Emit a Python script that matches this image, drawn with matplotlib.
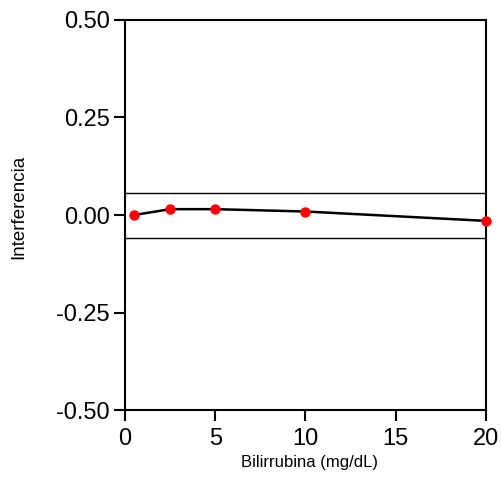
import matplotlib
matplotlib.use("Agg")
import matplotlib.pyplot as plt

# bilirrubina vs interferencia
bilirrubina = [0.5, 2.5, 5, 10, 20]
interferencia = [0.0, 0.015, 0.015, 0.009, -0.015]
limite_sup = 0.057
limite_inf = -0.059
x_ticks = [0, 5, 10, 15, 20]
y_ticks = [-0.50, -0.25, 0.00, 0.25, 0.50]

plt.rcParams["font.family"] = ["Liberation Sans", "DejaVu Sans"]

fig = plt.figure(figsize=(5.02, 4.96), dpi=100)
ax = fig.add_axes([0.249, 0.173, 0.719, 0.787])

ax.axhline(limite_sup, color="black", linewidth=1)
ax.axhline(limite_inf, color="black", linewidth=1)
ax.plot(bilirrubina, interferencia, color="black", linewidth=1.8,
        marker="o", markersize=6.5, markerfacecolor="red", markeredgecolor="red",
        clip_on=False, zorder=3)

ax.set_xlim(0, 20)
ax.set_ylim(-0.5, 0.5)
ax.set_xticks(x_ticks)
ax.set_yticks(y_ticks)
ax.set_yticklabels([f"{v:.2f}" for v in y_ticks])
for s in ax.spines.values():
    s.set_linewidth(1.5)
ax.tick_params(direction="out", length=8, width=1.5, labelsize=17)
ax.tick_params(axis="x", pad=5)
ax.tick_params(axis="y", pad=3)

ax.set_xlabel("Bilirrubina (mg/dL)", fontsize=12)
ax.set_ylabel("Interferencia", fontsize=13.5)
ax.xaxis.set_label_coords(0.51, -0.115)
ax.yaxis.set_label_coords(-0.27, 0.52)

fig.savefig("out.png", dpi=100)
